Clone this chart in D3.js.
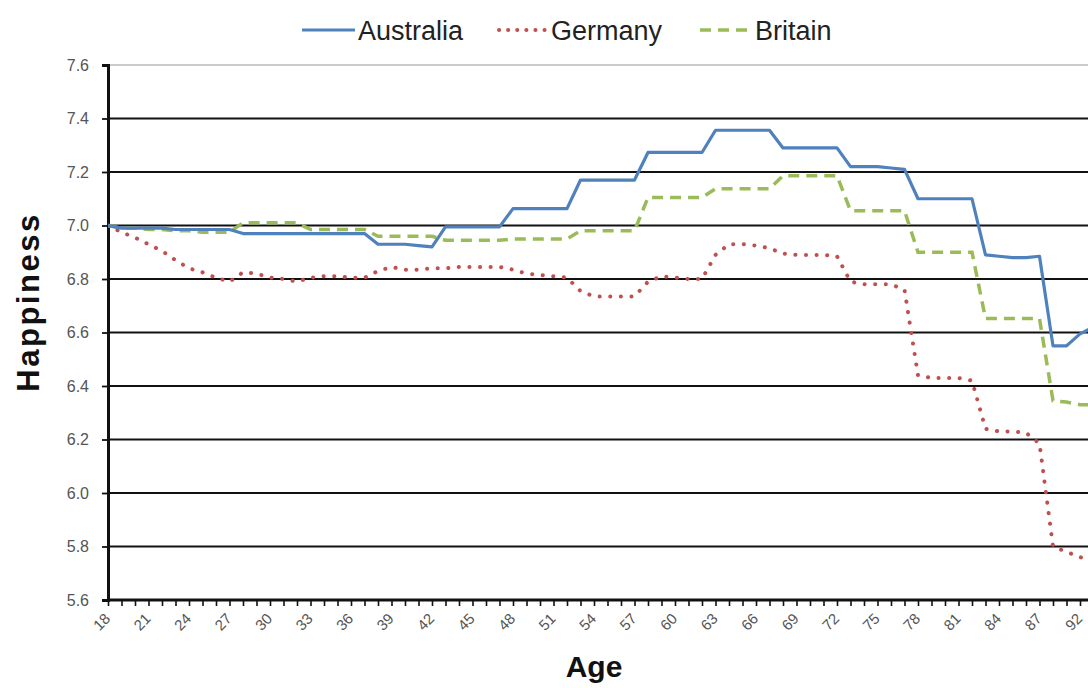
<!DOCTYPE html>
<html>
<head>
<meta charset="utf-8">
<script src="https://cdn.jsdelivr.net/npm/d3@7"></script>
<style>
  html, body { margin: 0; padding: 0; background: #fff; }
  svg { display: block; font-family: "Liberation Sans", Arial, sans-serif; }
</style>
</head>
<body>
<svg id="chart" width="1088" height="688"></svg>
<script>
// ---------- DATA ----------
const ages = [];
for (let a = 18; a <= 87; a++) ages.push(String(a));
ages.push("88", "90", "92", "93");

const xTickLabels = ["18","21","24","27","30","33","36","39","42","45","48","51","54","57","60","63","66","69","72","75","78","81","84","87","92"];
const yTicks = [5.6, 5.8, 6.0, 6.2, 6.4, 6.6, 6.8, 7.0, 7.2, 7.4, 7.6];

const australia = [
  7.00, 6.99, 6.99, 6.99, 6.99,
  6.985, 6.985, 6.985, 6.985, 6.985,
  6.97, 6.97, 6.97, 6.97, 6.97,
  6.97, 6.97, 6.97, 6.97, 6.97,
  6.93, 6.93, 6.93, 6.925, 6.92,
  6.995, 6.995, 6.995, 6.995, 6.995,
  7.063, 7.063, 7.063, 7.063, 7.063,
  7.17, 7.17, 7.17, 7.17, 7.17,
  7.273, 7.273, 7.273, 7.273, 7.273,
  7.356, 7.356, 7.356, 7.356, 7.356,
  7.29, 7.29, 7.29, 7.29, 7.29,
  7.22, 7.22, 7.22, 7.215, 7.21,
  7.10, 7.10, 7.10, 7.10, 7.10,
  6.89, 6.885, 6.88, 6.88, 6.885,
  6.55, 6.55, 6.595, 6.62
];
const germany = [
  7.00, 6.975, 6.955, 6.93, 6.905,
  6.87, 6.84, 6.825, 6.805, 6.79,
  6.825, 6.82, 6.805, 6.80, 6.79,
  6.805, 6.81, 6.81, 6.805, 6.805,
  6.83, 6.845, 6.835, 6.835, 6.84,
  6.84, 6.845, 6.845, 6.845, 6.845,
  6.835, 6.82, 6.815, 6.81, 6.805,
  6.755, 6.735, 6.735, 6.735, 6.735,
  6.79, 6.81, 6.805, 6.80, 6.80,
  6.89, 6.93, 6.93, 6.925, 6.915,
  6.895, 6.89, 6.89, 6.89, 6.885,
  6.79, 6.78, 6.78, 6.78, 6.76,
  6.44, 6.43, 6.43, 6.43, 6.42,
  6.24, 6.23, 6.23, 6.225, 6.185,
  5.80, 5.78, 5.76, 5.75
];
const britain = [
  7.00, 6.99, 6.99, 6.985, 6.985,
  6.98, 6.98, 6.975, 6.975, 6.975,
  7.01, 7.01, 7.01, 7.01, 7.01,
  6.985, 6.985, 6.985, 6.985, 6.985,
  6.96, 6.96, 6.96, 6.96, 6.96,
  6.945, 6.945, 6.945, 6.945, 6.945,
  6.95, 6.95, 6.95, 6.95, 6.95,
  6.98, 6.98, 6.98, 6.98, 6.98,
  7.105, 7.105, 7.105, 7.105, 7.105,
  7.137, 7.137, 7.137, 7.137, 7.137,
  7.186, 7.186, 7.186, 7.186, 7.186,
  7.055, 7.055, 7.055, 7.055, 7.055,
  6.90, 6.90, 6.90, 6.90, 6.90,
  6.652, 6.652, 6.652, 6.652, 6.652,
  6.345, 6.34, 6.33, 6.33
];
const seriesNames = ["Australia", "Germany", "Britain"];

// ---------- LAYOUT ----------
const W = 1088, H = 688;
const plotLeft = 108, plotRight = 1088, plotTop = 65, plotBottom = 600;
const stepPx = 13.5;

const svg = d3.select("#chart");

const x = d3.scalePoint()
  .domain(ages)
  .range([plotLeft, plotLeft + stepPx * (ages.length - 1)]);
const y = d3.scaleLinear().domain([5.6, 7.6]).range([plotBottom, plotTop]);

// clip
svg.append("defs").append("clipPath").attr("id", "plotclip")
  .append("rect").attr("x", plotLeft).attr("y", plotTop - 5)
  .attr("width", plotRight - plotLeft).attr("height", plotBottom - plotTop + 10);

// gridlines
svg.append("g").selectAll("line")
  .data(yTicks.filter(t => t > 5.6))
  .join("line")
  .attr("x1", plotLeft).attr("x2", plotRight)
  .attr("y1", d => y(d)).attr("y2", d => y(d))
  .attr("stroke", d => d === 7.6 ? "#9a9a9a" : "#111")
  .attr("stroke-width", d => d === 7.6 ? 1.2 : 1.8);

// y axis
const yAxis = svg.append("g")
  .attr("transform", `translate(${plotLeft},0)`)
  .call(d3.axisLeft(y).tickValues(yTicks).tickFormat(d3.format(".1f")).tickSize(6).tickPadding(13));
yAxis.select(".domain").attr("stroke", "#111").attr("stroke-width", 3);
yAxis.selectAll(".tick line").attr("stroke", "#111").attr("stroke-width", 1.8);
yAxis.selectAll(".tick text").attr("font-size", 16).attr("fill", "#555");

// x axis
const xAxis = svg.append("g")
  .attr("transform", `translate(0,${plotBottom})`)
  .call(d3.axisBottom(x).tickSize(6).tickFormat((d, i) => (i % 3 === 0 && xTickLabels.includes(d)) ? d : ""));
xAxis.select(".domain").attr("stroke", "#111").attr("stroke-width", 3)
  .attr("d", `M${plotLeft},0H${plotRight}`);
xAxis.selectAll(".tick line").attr("stroke", "#111").attr("stroke-width", 1.6);
xAxis.selectAll(".tick text")
  .attr("font-size", 15).attr("fill", "#555")
  .attr("text-anchor", "end")
  .attr("transform", "translate(-1,16) rotate(-45)")
  .attr("x", 0).attr("y", 0).attr("dy", "0.35em");

// lines
const line = d3.line().x((d, i) => x(ages[i])).y(d => y(d));
const gLines = svg.append("g").attr("clip-path", "url(#plotclip)");

gLines.append("path").datum(britain)
  .attr("d", line).attr("fill", "none")
  .attr("stroke", "#9BBB59").attr("stroke-width", 3.5)
  .attr("stroke-dasharray", "11,7");
gLines.append("path").datum(germany)
  .attr("d", line).attr("fill", "none")
  .attr("stroke", "#C0504D").attr("stroke-width", 4)
  .attr("stroke-linecap", "round")
  .attr("stroke-dasharray", "0.1,10.5");
gLines.append("path").datum(australia)
  .attr("d", line).attr("fill", "none")
  .attr("stroke", "#4F81BD").attr("stroke-width", 3.2)
  .attr("stroke-linejoin", "round");

// legend
const legend = svg.append("g");
const legItems = [
  { name: seriesNames[0], x1: 302, x2: 355, color: "#4F81BD", dash: null, w: 3.2, cap: "butt" },
  { name: seriesNames[1], x1: 499, x2: 548, color: "#C0504D", dash: "0.1,9", w: 4, cap: "round" },
  { name: seriesNames[2], x1: 700, x2: 752, color: "#9BBB59", dash: "11,7", w: 3.5, cap: "butt" }
];
legItems.forEach(it => {
  legend.append("line")
    .attr("x1", it.x1).attr("x2", it.x2).attr("y1", 30).attr("y2", 30)
    .attr("stroke", it.color).attr("stroke-width", it.w)
    .attr("stroke-linecap", it.cap)
    .attr("stroke-dasharray", it.dash);
  legend.append("text")
    .attr("x", it.x2 + 3).attr("y", 39.5)
    .attr("font-size", 27).attr("fill", "#222")
    .text(it.name);
});

// axis titles
svg.append("text")
  .attr("x", 594).attr("y", 677)
  .attr("text-anchor", "middle")
  .attr("font-size", 30).attr("font-weight", "bold").attr("fill", "#111")
  .text("Age");
svg.append("text")
  .attr("transform", "translate(39,302) rotate(-90)")
  .attr("text-anchor", "middle")
  .attr("font-size", 31).attr("font-weight", "bold").attr("fill", "#111")
  .attr("letter-spacing", 2.5)
  .text("Happiness");
</script>
</body>
</html>
